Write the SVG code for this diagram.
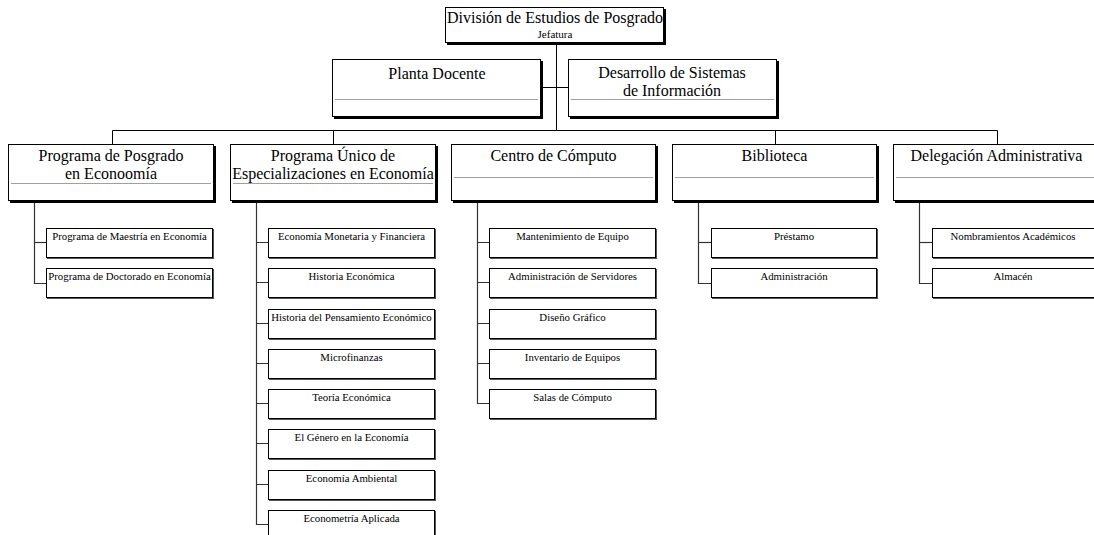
<svg xmlns="http://www.w3.org/2000/svg" width="1094" height="535" viewBox="0 0 1094 535" font-family="'Liberation Serif', 'DejaVu Serif', serif">
<style>
  text { font-family: 'Liberation Serif', 'DejaVu Serif', serif; fill: #000; text-anchor: middle; }
  .t1 { font-size: 16px; }
  .t0s { font-size: 11px; }
  .tc { font-size: 10.8px; }
  .box { fill: #fff; stroke: #000; stroke-width: 1; }
  .shadow { fill: #000; }
  .cbox { fill: #fff; stroke: #000; stroke-width: 1; }
  .cshadow { fill: #555; }
  .div { stroke: #a0a0a0; stroke-width: 1.2; }
  .conn { fill: none; stroke: #000; stroke-width: 1; }
  .cconn { fill: none; stroke: #333; stroke-width: 1.2; }
</style>
<rect width="1094" height="535" fill="#fff"/>

<g id="connectors">
  <path class="conn" d="M556.5 43 V130.5"/>
  <path class="conn" d="M541 87.5 H568"/>
  <path class="conn" d="M112.5 144 V130.5 H997.5 V144"/>
  <path class="conn" d="M333.5 130.5 V144"/>
  <path class="conn" d="M775.5 130.5 V144"/>
  <path class="cconn" d="M34.5 202 V283.5 H46"/>
  <path class="cconn" d="M34.5 242.5 H46"/>
  <path class="cconn" d="M256.5 202 V524.5 H268"/>
  <path class="cconn" d="M256.5 242.5 H268 M256.5 282.5 H268 M256.5 323.5 H268 M256.5 363.5 H268 M256.5 403.5 H268 M256.5 443.5 H268 M256.5 484.5 H268"/>
  <path class="cconn" d="M477.5 202 V403.5 H489"/>
  <path class="cconn" d="M477.5 242.5 H489 M477.5 282.5 H489 M477.5 323.5 H489 M477.5 363.5 H489"/>
  <path class="cconn" d="M698.5 202 V283.5 H711"/>
  <path class="cconn" d="M698.5 242.5 H711"/>
  <path class="cconn" d="M919.5 202 V283.5 H932"/>
  <path class="cconn" d="M919.5 242.5 H932"/>
</g>

<g id="n-division">
  <rect class="shadow" x="447" y="9" width="219" height="36"/>
  <rect class="box" x="445.5" y="7.5" width="218" height="35"/>
  <text class="t1" x="555" y="23">División de Estudios de Posgrado</text>
  <text class="t0s" x="555" y="38">Jefatura</text>
</g>

<g id="n-planta">
  <rect class="shadow" x="334" y="61" width="209" height="58"/>
  <rect class="box" x="332.5" y="59.5" width="208" height="57"/>
  <text class="t1" x="437" y="79">Planta Docente</text>
  <line class="div" x1="335" y1="99.5" x2="538" y2="99.5"/>
</g>

<g id="n-desarrollo">
  <rect class="shadow" x="570" y="61" width="209" height="58"/>
  <rect class="box" x="568.5" y="59.5" width="208" height="57"/>
  <text class="t1" x="672" y="78">Desarrollo de Sistemas</text>
  <text class="t1" x="672" y="96">de Información</text>
  <line class="div" x1="571" y1="99.5" x2="774" y2="99.5"/>
</g>

<g id="n-posgrado">
  <rect class="shadow" x="10" y="146" width="206" height="57"/>
  <rect class="box" x="8.5" y="144.5" width="205" height="56"/>
  <text class="t1" x="111" y="161">Programa de Posgrado</text>
  <text class="t1" x="111" y="179">en Econoomía</text>
  <line class="div" x1="11" y1="183.5" x2="211" y2="183.5"/>
</g>

<g id="n-unico">
  <rect class="shadow" x="232" y="146" width="206" height="57"/>
  <rect class="box" x="230.5" y="144.5" width="205" height="56"/>
  <text class="t1" x="333" y="161">Programa Único de</text>
  <text class="t1" x="333" y="179">Especializaciones en Economía</text>
  <line class="div" x1="233" y1="183.5" x2="433" y2="183.5"/>
</g>

<g id="n-computo">
  <rect class="shadow" x="453" y="146" width="205" height="57"/>
  <rect class="box" x="451.5" y="144.5" width="204" height="56"/>
  <text class="t1" x="553.5" y="161">Centro de Cómputo</text>
  <line class="div" x1="454" y1="177.5" x2="653" y2="177.5"/>
</g>

<g id="n-biblioteca">
  <rect class="shadow" x="674" y="146" width="205" height="57"/>
  <rect class="box" x="672.5" y="144.5" width="204" height="56"/>
  <text class="t1" x="774.5" y="161">Biblioteca</text>
  <line class="div" x1="675" y1="177.5" x2="874" y2="177.5"/>
</g>

<g id="n-delegacion">
  <rect class="shadow" x="895" y="146" width="210" height="57"/>
  <rect class="box" x="893.5" y="144.5" width="209" height="56"/>
  <text class="t1" x="996.5" y="161">Delegación Administrativa</text>
  <line class="div" x1="896" y1="177.5" x2="1094" y2="177.5"/>
</g>

<g id="n-maestria"><rect class="cshadow" x="47" y="229" width="167" height="30"/><rect class="cbox" x="46.5" y="228.5" width="166" height="29"/><text class="tc" x="129.5" y="240">Programa de Maestría en Economía</text></g>
<g id="n-doctorado"><rect class="cshadow" x="47" y="269" width="167" height="30"/><rect class="cbox" x="46.5" y="268.5" width="166" height="29"/><text class="tc" x="129.5" y="280">Programa de Doctorado en Economía</text></g>

<g id="n-monetaria"><rect class="cshadow" x="269" y="229" width="167" height="30"/><rect class="cbox" x="268.5" y="228.5" width="166" height="29"/><text class="tc" x="351.5" y="240">Economía Monetaria y Financiera</text></g>
<g id="n-historia"><rect class="cshadow" x="269" y="269" width="167" height="30"/><rect class="cbox" x="268.5" y="268.5" width="166" height="29"/><text class="tc" x="351.5" y="280">Historia Económica</text></g>
<g id="n-pensamiento"><rect class="cshadow" x="269" y="310" width="167" height="30"/><rect class="cbox" x="268.5" y="309.5" width="166" height="29"/><text class="tc" x="351.5" y="321">Historia del Pensamiento Económico</text></g>
<g id="n-microfinanzas"><rect class="cshadow" x="269" y="350" width="167" height="30"/><rect class="cbox" x="268.5" y="349.5" width="166" height="29"/><text class="tc" x="351.5" y="361">Microfinanzas</text></g>
<g id="n-teoria"><rect class="cshadow" x="269" y="390" width="167" height="30"/><rect class="cbox" x="268.5" y="389.5" width="166" height="29"/><text class="tc" x="351.5" y="401">Teoría Económica</text></g>
<g id="n-genero"><rect class="cshadow" x="269" y="430" width="167" height="30"/><rect class="cbox" x="268.5" y="429.5" width="166" height="29"/><text class="tc" x="351.5" y="441">El Género en la Economía</text></g>
<g id="n-ambiental"><rect class="cshadow" x="269" y="471" width="167" height="30"/><rect class="cbox" x="268.5" y="470.5" width="166" height="29"/><text class="tc" x="351.5" y="482">Economía Ambiental</text></g>
<g id="n-econometria"><rect class="cshadow" x="269" y="511" width="167" height="30"/><rect class="cbox" x="268.5" y="510.5" width="166" height="29"/><text class="tc" x="351.5" y="522">Econometría Aplicada</text></g>

<g id="n-mantenimiento"><rect class="cshadow" x="490" y="229" width="167" height="30"/><rect class="cbox" x="489.5" y="228.5" width="166" height="29"/><text class="tc" x="572.5" y="240">Mantenimiento de Equipo</text></g>
<g id="n-servidores"><rect class="cshadow" x="490" y="269" width="167" height="30"/><rect class="cbox" x="489.5" y="268.5" width="166" height="29"/><text class="tc" x="572.5" y="280">Administración de Servidores</text></g>
<g id="n-diseno"><rect class="cshadow" x="490" y="310" width="167" height="30"/><rect class="cbox" x="489.5" y="309.5" width="166" height="29"/><text class="tc" x="572.5" y="321">Diseño Gráfico</text></g>
<g id="n-inventario"><rect class="cshadow" x="490" y="350" width="167" height="30"/><rect class="cbox" x="489.5" y="349.5" width="166" height="29"/><text class="tc" x="572.5" y="361">Inventario de Equipos</text></g>
<g id="n-salas"><rect class="cshadow" x="490" y="390" width="167" height="30"/><rect class="cbox" x="489.5" y="389.5" width="166" height="29"/><text class="tc" x="572.5" y="401">Salas de Cómputo</text></g>

<g id="n-prestamo"><rect class="cshadow" x="712" y="229" width="166" height="30"/><rect class="cbox" x="711.5" y="228.5" width="165" height="29"/><text class="tc" x="794" y="240">Préstamo</text></g>
<g id="n-administracion"><rect class="cshadow" x="712" y="269" width="166" height="30"/><rect class="cbox" x="711.5" y="268.5" width="165" height="29"/><text class="tc" x="794" y="280">Administración</text></g>

<g id="n-nombramientos"><rect class="cshadow" x="933" y="229" width="167" height="30"/><rect class="cbox" x="932.5" y="228.5" width="166" height="29"/><text class="tc" x="1013" y="240">Nombramientos Académicos</text></g>
<g id="n-almacen"><rect class="cshadow" x="933" y="269" width="167" height="30"/><rect class="cbox" x="932.5" y="268.5" width="166" height="29"/><text class="tc" x="1013" y="280">Almacén</text></g>
</svg>
